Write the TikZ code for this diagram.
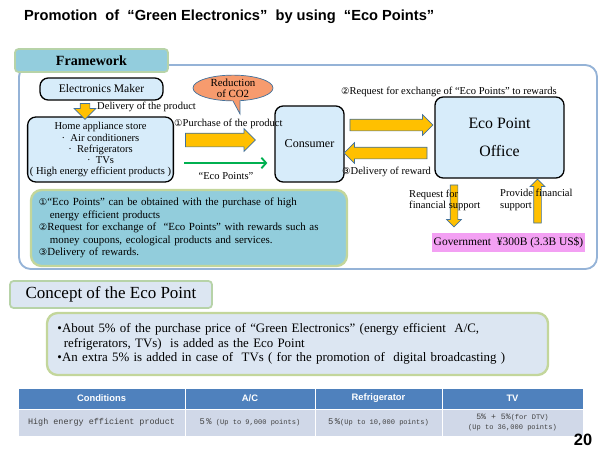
\documentclass[tikz,border=0pt]{standalone}
\usepackage{fontspec}
\setmainfont{Liberation Serif}
\setsansfont{Liberation Sans}
\setmonofont{Liberation Mono}
\newfontfamily\circfont{DejaVu Sans}
\usepackage{tikz}
\usetikzlibrary{calc, positioning, shapes.geometric, shapes.arrows, shapes.callouts, arrows.meta}
\definecolor{frameblue}{HTML}{95B3D7}
\definecolor{tabblue}{HTML}{93CDDD}
\definecolor{tabedge}{HTML}{B7D3A8}
\definecolor{partyblue}{HTML}{D7ECFA}
\definecolor{noteblue}{HTML}{92CDDC}
\definecolor{notegreen}{HTML}{C3D69B}
\definecolor{arrowyellow}{HTML}{FFC000}
\definecolor{arrowedge}{HTML}{41719C}
\definecolor{co2orange}{HTML}{F79B6E}
\definecolor{govpink}{HTML}{F3A0F3}
\definecolor{conceptfill}{HTML}{DCE6F2}
\definecolor{headblue}{HTML}{4F81BD}
\definecolor{rowblue}{HTML}{D0D8E8}
\definecolor{ecogreen}{HTML}{00B050}
\definecolor{tablegray}{HTML}{404040}
\newcommand{\circnum}[1]{{\circfont\fontsize{8}{8}\selectfont #1}}
\tikzstyle{party}    = [draw, line width=1.1pt, rounded corners=7pt, fill=partyblue, align=center, inner sep=2pt]
\tikzstyle{tabbox}   = [draw=tabedge, line width=1.5pt, rounded corners=3pt, inner sep=0pt]
\tikzstyle{fatarrow} = [single arrow, draw=arrowedge, fill=arrowyellow, line width=0.6pt, inner xsep=0pt, single arrow head extend=0.135cm]
\tikzstyle{lbl}      = [font=\fontsize{9}{10}\selectfont, inner sep=0pt, align=left]
\tikzstyle{ecoarrow} = [ecogreen, line width=1.6pt, -{Straight Barb[length=4pt,width=9pt]}]
\tikzstyle{headtxt}  = [text=white, font=\sffamily\bfseries\fontsize{8}{9}\selectfont]
\tikzstyle{bodytxt}  = [text=tablegray, align=center, font=\ttfamily\fontsize{6}{8}\selectfont]

\begin{document}
\begin{tikzpicture}[x=0.03cm, y=-0.03cm]
  \useasboundingbox (0,0) rectangle (600,450);

  %title
  \node[font=\sffamily\bfseries\fontsize{12.5}{14}\selectfont, anchor=west] (title) at (20,17)
    {Promotion \ of \ “Green Electronics” \ by using \ “Eco Points”};

  %framework area
  \draw[frameblue, line width=1.6pt, rounded corners=10pt] (19,65) rectangle (597,269);
  \node[tabbox, fill=tabblue, minimum width=4.59cm, minimum height=0.69cm,
    font=\bfseries\fontsize{12}{14}\selectfont] (frametab) at (91.5,60.5) {Framework};

  %the parties
  \node[party, minimum width=3.69cm, minimum height=0.66cm, font=\fontsize{9.9}{11}\selectfont] (maker) at (101.5,89) {Electronics Maker};
  \node[party, minimum width=4.35cm, minimum height=1.95cm, font=\fontsize{9}{9.4}\selectfont] (store) at (100.5,149.5)
    {Home appliance store\\ · \ Air conditioners\\ · \ Refrigerators\\ · \ TVs\\( High energy efficient products )};
  \node[party, minimum width=2.07cm, minimum height=2.28cm, font=\fontsize{10.3}{11}\selectfont] (consumer) at (309.5,144) {Consumer};
  \node[party, minimum width=3.87cm, minimum height=2.43cm, font=\fontsize{13.5}{15}\selectfont] (office) at (499.5,137.5) {Eco Point\\[9pt]Office};
  \node[fill=govpink, minimum width=4.59cm, minimum height=0.57cm, inner sep=0pt, font=\fontsize{9.8}{11}\selectfont] (gov) at (508.5,242.5)
    {Government \ ¥300B (3.3B US\$)};

  %block arrows
  \node[fatarrow, minimum height=0.48cm, inner ysep=0.135cm, single arrow head extend=0.18cm, rotate=-90] (delivarrow) at (85,109) {};
  \node[fatarrow, minimum height=2.1cm, inner ysep=0.195cm] (buyarrow) at (217,140) {};
  \node[fatarrow, minimum height=2.49cm, inner ysep=0.165cm] (askarrow) at (388.5,125) {};
  \node[fatarrow, minimum height=2.49cm, inner ysep=0.165cm, rotate=180] (rewardarrow) at (388.5,153) {};
  \node[fatarrow, minimum height=1.26cm, inner ysep=0.105cm, single arrow head extend=0.105cm, rotate=-90] (reqarrow) at (454,204) {};
  \node[fatarrow, minimum height=1.32cm, inner ysep=0.105cm, single arrow head extend=0.105cm, rotate=90] (supparrow) at (537.5,203) {};

  \node[ellipse callout, draw=arrowedge, fill=co2orange, line width=0.6pt, minimum width=2.4cm, minimum height=0.69cm,
    inner sep=0pt, align=center, font=\fontsize{9.3}{9}\selectfont, callout absolute pointer={(240,114)}, callout pointer arc=10] (co2) at (233,88)
    {Reduction\\of CO2};

  %labels
  \node[lbl, anchor=west] (delivlbl) at (97,107) {Delivery of the product};
  \node[lbl, anchor=west] (buylbl) at (174,124) {\circnum{①}Purchase of the product};
  \node[lbl, anchor=west] (asklbl) at (341,92) {\circnum{②}Request for exchange of “Eco Points” to rewards};
  \node[lbl, anchor=west] (rewardlbl) at (342,172) {\circnum{③}Delivery of reward};
  \node[lbl] (pointlbl) at (226,176) {“Eco Points”};
  \node[lbl, anchor=west] (reqlbl) at (409,200.5) {Request for\\financial support};
  \node[lbl, anchor=west] (supplbl) at (500,200) {Provide financial\\support};

  \draw[ecoarrow] ($(store.east)+(10,13.5)$) -- ($(consumer.west)+(-7,19)$);

  \node[draw=notegreen, line width=2pt, fill=noteblue, rounded corners=9pt, minimum width=9.48cm, minimum height=2.28cm,
    text width=9.0cm, align=left, font=\fontsize{9.3}{10.6}\selectfont] (note) at (189,228)
    {\circnum{①}“Eco Points” can be obtained with the purchase of high\\
     \hspace*{1em}energy efficient products\\
     \circnum{②}Request for exchange of \ “Eco Points” with rewards such as\\
     \hspace*{1em}money coupons, ecological products and services.\\
     \circnum{③}Delivery of rewards.};

  %concept
  \node[tabbox, fill=conceptfill, minimum width=6.06cm, minimum height=0.81cm, font=\fontsize{14.5}{16}\selectfont] (concepttab) at (111,294.5)
    {Concept of the Eco Point};
  \node[draw=notegreen, line width=2pt, fill=conceptfill, rounded corners=9pt, minimum width=15.03cm, minimum height=1.86cm,
    text width=14.4cm, align=left, font=\fontsize{11}{12.4}\selectfont] (bullets) at (297.5,344)
    {•About 5\% of the purchase price of “Green Electronics” (energy efficient \ A/C,\\
     \hspace*{0.5em}refrigerators, TVs) \ is added as the Eco Point\\
     •An extra 5\% is added in case of \ TVs ( for the promotion of \ digital broadcasting )};

  %table
  \foreach \xl/\xr/\head/\body [count=\i] in {18/185/Conditions/{\fontsize{7.2}{8}\selectfont High energy efficient product},
      185/315/{A/C}/{{\fontsize{7.5}{8}\selectfont 5\,\%} (Up to 9,000 points)},
      315/442/Refrigerator/{{\fontsize{7.5}{8}\selectfont 5\,\%}(Up to 10,000 points)},
      442/583/TV/{{\fontsize{7}{8}\selectfont 5\% + 5\%}(for DTV)\\(Up to 36,000 points)}}{
    \filldraw[fill=headblue, draw=white] (\xl,388) rectangle (\xr,409);
    \filldraw[fill=rowblue, draw=white] (\xl,409) rectangle (\xr,436);
    \node[headtxt] (h\i) at ({(\xl+\xr)/2},398.5) {\head};
    \node[bodytxt] (b\i) at ({(\xl+\xr)/2},422.5) {\body};
  }

  \node[font=\sffamily\bfseries\fontsize{14}{16}\selectfont] (page) at (583,440) {20};
\end{tikzpicture}
\end{document}
